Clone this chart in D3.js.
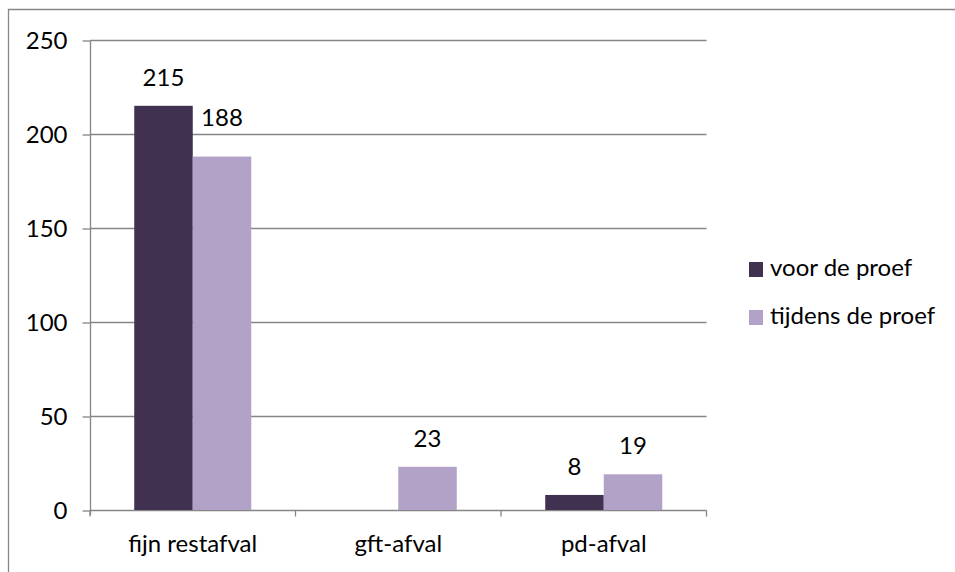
<!DOCTYPE html>
<html>
<head>
<meta charset="utf-8">
<script src="https://cdn.jsdelivr.net/npm/d3@7"></script>
<style>
  html, body { margin: 0; padding: 0; background: #fff; }
  svg { display: block; font-family: Lato, "Open Sans", sans-serif; }
</style>
</head>
<body>
<svg id="chart" width="955" height="572"></svg>
<script>
// Waste amounts per stream, before and during the trial
const categories = ["fijn restafval", "gft-afval", "pd-afval"];
const seriesNames = ["voor de proef", "tijdens de proef"];
const voorValues = [215, null, 8];
const tijdensValues = [188, 23, 19];
const yTicks = [0, 50, 100, 150, 200, 250];
const colors = ["#403151", "#B3A2C7"];

const svg = d3.select("#chart");
const grey = "#868686";
const fontSize = 24;

// chart frame
svg.append("path")
  .attr("d", "M8.5,572 V9.5 H955")
  .attr("fill", "none").attr("stroke", grey).attr("stroke-width", 1.3);

const plot = { left: 90, right: 706.5, top: 40, bottom: 510 };

const x = d3.scaleBand().domain(categories).range([plot.left, plot.right]).paddingInner(0).paddingOuter(0);
const xs = d3.scaleBand().domain(seriesNames).range([0, x.bandwidth()]).paddingInner(0).paddingOuter(0.756);
const y = d3.scaleLinear().domain([0, 250]).range([plot.bottom, plot.top]);

// horizontal gridlines
svg.append("g").selectAll("line").data(yTicks.filter(t => t > 0)).join("line")
  .attr("x1", plot.left).attr("x2", plot.right)
  .attr("y1", d => Math.round(y(d)) + 0.5).attr("y2", d => Math.round(y(d)) + 0.5)
  .attr("stroke", grey).attr("stroke-width", 1.3);

// y axis
const yAxis = svg.append("g").attr("transform", `translate(${plot.left + 0.5},0)`)
  .call(d3.axisLeft(y).tickValues(yTicks).tickSize(8).tickPadding(15).tickFormat(d3.format("d")));
yAxis.select(".domain").attr("d", `M0,${plot.top} V${plot.bottom + 5}`).attr("stroke", grey).attr("stroke-width", 1.3);
yAxis.selectAll(".tick line").attr("stroke", grey).attr("stroke-width", 1.3)
  .attr("transform", "translate(0,0.5)");
yAxis.selectAll(".tick text").attr("font-size", fontSize).attr("fill", "#000")
  .attr("font-family", "Lato, 'Open Sans', sans-serif").attr("dy", "0.36em");

// x axis
const xAxis = svg.append("g").attr("transform", `translate(0,${plot.bottom + 0.5})`);
xAxis.append("line").attr("x1", plot.left).attr("x2", plot.right)
  .attr("stroke", grey).attr("stroke-width", 1.3);
const boundaries = categories.map(c => x(c)).concat([plot.right]);
xAxis.selectAll("line.tk").data(boundaries).join("line").attr("class", "tk")
  .attr("x1", d => d).attr("x2", d => d).attr("y1", 0).attr("y2", 6)
  .attr("stroke", grey).attr("stroke-width", 1.3);
xAxis.selectAll("text").data(categories).join("text")
  .attr("x", d => x(d) + x.bandwidth() / 2).attr("y", 41)
  .attr("text-anchor", "middle").attr("font-size", fontSize).attr("fill", "#000")
  .text(d => d);

// bars
const rows = categories.map((c, i) => ({ cat: c, vals: [voorValues[i], tijdensValues[i]] }));
const groups = svg.append("g").selectAll("g").data(rows).join("g")
  .attr("transform", d => `translate(${x(d.cat)},0)`);
const items = d => d.vals.map((v, j) => ({ name: seriesNames[j], v, j, cat: d.cat })).filter(e => e.v != null);
groups.selectAll("rect").data(items).join("rect")
  .attr("x", d => xs(d.name)).attr("width", xs.bandwidth())
  .attr("y", d => y(d.v)).attr("height", d => y(0) - y(d.v))
  .attr("fill", d => colors[d.j]);

// value labels; the 188 label sits a little higher to clear its neighbour
groups.selectAll("text").data(items).join("text")
  .attr("x", d => xs(d.name) + xs.bandwidth() / 2)
  .attr("y", d => y(d.v) - 20 - (d.cat === "fijn restafval" && d.j === 1 ? 11 : 0))
  .attr("text-anchor", "middle").attr("font-size", fontSize).attr("fill", "#000")
  .text(d => d.v);

// legend
const legend = svg.append("g").attr("transform", "translate(749,262)");
const li = legend.selectAll("g").data(seriesNames).join("g")
  .attr("transform", (d, i) => `translate(0,${i * 48})`);
li.append("rect").attr("width", 14).attr("height", 15).attr("fill", (d, i) => colors[i]);
li.append("text").attr("x", 21).attr("y", 14).attr("font-size", fontSize).attr("fill", "#000").text(d => d);
</script>
</body>
</html>
